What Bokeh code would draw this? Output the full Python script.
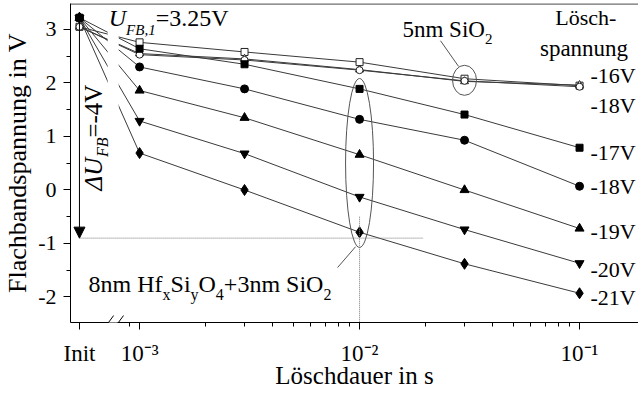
import math
from bokeh.plotting import figure
from bokeh.models import (FixedTicker, Label, Span, Arrow, NormalHead, BoxAnnotation, Range1d)
from bokeh.embed import file_html
from bokeh.resources import INLINE

FONT = "Liberation Serif"

# ---------------- data ----------------
times = [1e-3, 3e-3, 1e-2, 3e-2, 1e-1]
init_pos = 5.33e-4          # position of the "Init" category on the time axis

# 8nm HfxSiyO4 + 3nm SiO2 (filled markers)
init_hf = 3.22
v17 = [2.64, 2.35, 1.89, 1.41, 0.79]
v18 = [2.30, 1.89, 1.32, 0.93, 0.07]
v19 = [1.86, 1.35, 0.66, 0.00, -0.72]
v20 = [1.29, 0.68, -0.13, -0.74, -1.37]
v21 = [0.69, 0.00, -0.79, -1.38, -1.93]

# 5nm SiO2 (open markers)
init_si = 3.05
s16a = [2.76, 2.58, 2.39, 2.08, 1.95]
s16b = [2.55, 2.45, 2.25, 2.03, 1.96]
s18 = [2.53, 2.43, 2.24, 2.04, 1.93]

y_ticks = [-2, -1, 0, 1, 2, 3]
y_tick_labels = ["-2", "-1", "0", "1", "2", "3"]
y_minor = [-2.5, -1.5, -0.5, 0.5, 1.5, 2.5, 3.5]
x_ticks = [init_pos, 1e-3, 1e-2, 1e-1]
x_tick_labels = ["Init", "10\u207b\u00b3", "10\u207b\u00b2", "10\u207b\u00b9"]
x_minor = [9e-4] + [k * 1e-3 for k in range(2, 10)] + [k * 1e-2 for k in range(2, 10)]

right_labels = ["-16V", "-18V", "-17V", "-18V", "-19V", "-20V", "-21V"]

# ---------------- figure ----------------
Y0, Y1 = -2.477, 3.486
X0, X1 = 10 ** -3.314, 10 ** -0.732
p = figure(width=638, height=393, x_axis_type="log",
           x_range=Range1d(X0, X1), y_range=Range1d(Y0, Y1),
           output_backend="svg", toolbar_location=None,
           min_border_left=70, min_border_right=0, min_border_top=3, min_border_bottom=71)
p.outline_line_color = None
p.grid.visible = False
p.background_fill_color = "white"

for ax in (p.xaxis[0], p.yaxis[0]):
    ax.axis_line_color = "black"
    ax.major_tick_line_color = "black"
    ax.minor_tick_line_color = "black"
    ax.major_tick_in = 0
    ax.minor_tick_in = 0
    ax.major_tick_out = 7
    ax.minor_tick_out = 4
    ax.major_label_text_font = FONT
    ax.major_label_text_color = "black"
    ax.axis_label_text_font = FONT
    ax.axis_label_text_font_style = "normal"
    ax.axis_label_text_color = "black"

p.xaxis.ticker = FixedTicker(ticks=x_ticks, minor_ticks=x_minor)
p.xaxis.major_label_overrides = dict(zip(x_ticks, x_tick_labels))
p.xaxis.major_label_text_font_size = "23px"
p.xaxis.major_label_standoff = 11
p.xaxis.axis_label = "Löschdauer in s"
p.xaxis.axis_label_text_font_size = "25px"
p.xaxis.axis_label_standoff = -7

p.yaxis.ticker = FixedTicker(ticks=y_ticks, minor_ticks=y_minor)
p.yaxis.major_label_overrides = dict(zip(y_ticks, y_tick_labels))
p.yaxis.major_label_text_font_size = "22px"
p.yaxis.major_label_standoff = 7
p.yaxis.axis_label = "Flachbandspannung in V"
p.yaxis.axis_label_text_font_size = "26px"
p.yaxis.axis_label_standoff = 3

p.add_layout(Span(location=Y1 - 0.008, dimension="width", line_color="black", line_width=1))

LINE = "#3a3a3a"
xs = [init_pos] + times

filled = [(v21, "diamond", 11), (v20, "inverted_triangle", 9), (v19, "triangle", 9),
          (v17, "square", 7), (v18, "circle", 8)]
opened = [(s16a, "square", 7), (s16b, "triangle", 8), (s18, "circle", 7)]

for vals, _, _ in filled:
    p.line(xs, [init_hf] + vals, line_color=LINE, line_width=1)
for vals, _, _ in opened:
    p.line(xs, [init_si] + vals, line_color=LINE, line_width=1)

for vals, m, s in opened:
    p.scatter(xs, [init_si] + vals, marker=m, size=s, fill_color="white",
              line_color="#222222", line_width=1)
for vals, m, s in filled:
    p.scatter(xs, [init_hf] + vals, marker=m, size=s, fill_color="black",
              line_color="black")

# ellipses around groups
p.ellipse(x=[1e-2], y=[0.505], width=28, height=169, width_units="screen",
          height_units="screen", fill_color=None, line_color="#555555", line_width=1)
p.ellipse(x=[3e-2], y=[2.05], width=24, height=30, width_units="screen",
          height_units="screen", fill_color=None, line_color="#555555", line_width=1)

# leader lines
p.line([10 ** -1.632, 10 ** -1.55], [2.79, 2.31], line_color="#555555", line_width=1)
p.line([10 ** -2.10, 10 ** -2.018], [-1.45, -1.06], line_color="#555555", line_width=1)

# dotted guides
p.line([init_pos, 10 ** -1.709], [-0.9, -0.9], line_color="#777777", line_dash="1 1", line_width=1)
p.line([1e-2, 1e-2], [-0.5, Y0], line_color="#777777", line_dash="1 1", line_width=1)

# axis break: hide the lines in the gap
p.add_layout(BoxAnnotation(left=10 ** -3.145, right=10 ** -3.095, bottom=1.4, top=3.0,
                           fill_color="white", fill_alpha=1, line_color=None))

# ΔU arrow
p.add_layout(Arrow(end=NormalHead(size=11, fill_color="black", line_color="black"),
                   x_start=init_pos, y_start=3.2, x_end=init_pos, y_end=-0.9,
                   line_color="black", line_width=1))

# break marks on x-axis
yb_lo, yb_hi = Y0 - 0.15, Y0 + 0.13
p.add_layout(Arrow(end=None, x_start=10 ** -3.14, y_start=Y0, x_end=10 ** -3.10, y_end=Y0,
                   line_color="white", line_width=3))
p.add_layout(Arrow(end=None, x_start=10 ** -3.168, y_start=yb_lo, x_end=10 ** -3.118, y_end=yb_hi,
                   line_color="black", line_width=1))
p.add_layout(Arrow(end=None, x_start=10 ** -3.123, y_start=yb_lo, x_end=10 ** -3.073, y_end=yb_hi,
                   line_color="black", line_width=1))

# ---------------- text helpers ----------------
W = {'0': 500, '1': 500, '2': 500, '3': 500, '4': 500, '5': 500, '6': 500, '7': 500, '8': 500, '9': 500,
     ' ': 250, 'n': 500, 'm': 778, 'H': 722, 'f': 333, 'S': 556, 'i': 278, 'O': 722, '+': 564,
     'x': 500, 'y': 500, 'U': 722, 'F': 611, 'B': 611, ',': 250, '=': 564, '.': 250, 'V': 722,
     '\u0394': 612, '-': 333}
BASE_FIX = 0.38   # Label places the alphabetic baseline this fraction of an em too low


def tw(s, size):
    return sum(W.get(c, 500) for c in s) * size / 1000.0


def label(x, y, text, size, style="normal", xo=0.0, yo=0.0, angle=0.0, align="left"):
    fix = BASE_FIX * size
    if angle == 0:
        yo += fix
    else:
        xo -= fix
    p.add_layout(Label(x=x, y=y, x_offset=xo, y_offset=yo, text=text, angle=angle,
                       text_font=FONT, text_font_size=f"{size}px", text_font_style=style,
                       text_color="black", text_baseline="alphabetic", text_align=align))


def composite(x, y, pieces, angle=0.0):
    off = 0.0
    for text, size, style, drop in pieces:
        if angle == 0:
            xo, yo = off, -drop
        else:
            xo, yo = drop, off
        label(x, y, text, size, style, xo, yo, angle)
        off += tw(text, size)


# annotations
composite(10 ** -3.14, 3.04, [("U", 24, "italic", 0), ("FB,1", 15, "italic", 8),
                              ("=3.25V", 24, "normal", 0)])
composite(10 ** -3.168, -0.009, [("\u0394U", 25, "italic", 0), ("FB", 16, "italic", 6),
                                 ("=-4V", 25, "normal", 0)], angle=math.pi / 2)
composite(10 ** -3.232, -1.935, [("8nm Hf", 24, "normal", 0), ("x", 16, "normal", 7),
                                 ("Si", 24, "normal", 0), ("y", 16, "normal", 7),
                                 ("O", 24, "normal", 0), ("4", 16, "normal", 7),
                                 ("+3nm SiO", 24, "normal", 0), ("2", 16, "normal", 7)])
composite(10 ** -1.805, 2.83, [("5nm SiO", 23, "normal", 0), ("2", 15, "normal", 6)])

# right-hand labels
label(10 ** -1.11, 3.07, "Lösch-", 22)
label(10 ** -1.18, 2.48, "spannung", 23)
label_y = [1.99, 1.43, 0.55, -0.10, -0.94, -1.64, -2.16]
for t, yy in zip(right_labels, label_y):
    label(10 ** -0.95, yy, t, 22)

open("out.html", "w").write(file_html(p, INLINE))
